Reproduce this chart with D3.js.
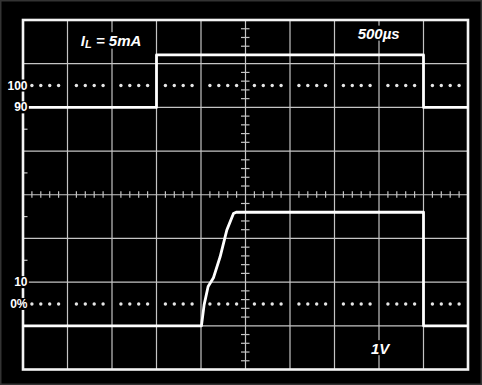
<head>
  <title>Load step response</title>
</head>
<body>
  <script src="https://cdn.jsdelivr.net/npm/d3@7"></script>

  <style>
    body {
      margin: 0;
      background: #000;
    }
    text {
      font-family: "Liberation Sans", Arial, sans-serif;
      font-weight: bold;
      fill: #fff;
    }
    .grid line {
      stroke: #c4c4c4;
      stroke-width: 1.2;
    }
    .trace {
      fill: none;
      stroke: #fff;
      stroke-width: 2.8;
      stroke-linejoin: round;
    }
  </style>

  <script>
    // time in microseconds (500us/div), levels in screen divisions from centre
    const currentTime = [0, 1500, 1500, 4500, 4500, 5000];
    const currentLevel = [2, 2, 3.2, 3.2, 2, 2];

    const voltageTime = [0, 2005, 2035, 2080, 2140, 2215, 2290, 2365, 2395, 4500, 4500, 5000];
    const voltageLevel = [-3, -3, -2.52, -2.1, -1.9, -1.42, -0.81, -0.43, -0.4, -0.4, -3, -3];

    const refLevels = [2.5, 2, -2, -2.5];
    const refLabels = ["100", "90", "10", "0%"];
    const dottedLevels = [2.5, -2.5];

    const W = 482, H = 385;
    var margin = {top: 20, right: 14, bottom: 15.5, left: 23}
      , width = W - margin.left - margin.right
      , height = H - margin.top - margin.bottom;

    const svg = d3.select("body").append("svg")
      .attr("width", W)
      .attr("height", H);

    // outer frame of the photo
    svg.append("rect")
      .attr("x", 0.75).attr("y", 0.75)
      .attr("width", W - 1.5).attr("height", H - 1.5)
      .attr("fill", "#000")
      .attr("stroke", "#333")
      .attr("stroke-width", 1.5);

    const g = svg.append("g")
      .attr("transform", "translate(" + margin.left + "," + margin.top + ")");

    const x = d3.scaleLinear().domain([0, 5000]).range([0, width]);
    const y = d3.scaleLinear().domain([-4, 4]).range([height, 0]);

    // graticule
    const grid = g.append("g").attr("class", "grid");
    grid.selectAll(".v").data(d3.range(500, 5000, 500)).enter().append("line")
      .attr("x1", d => x(d)).attr("x2", d => x(d))
      .attr("y1", 0).attr("y2", height);
    grid.selectAll(".h").data(d3.range(-3, 4)).enter().append("line")
      .attr("x1", 0).attr("x2", width)
      .attr("y1", d => y(d)).attr("y2", d => y(d));

    // minor ticks on centre axes
    const minorX = d3.range(0, 5001, 100).filter(d => d % 500 !== 0);
    const minorY = d3.range(-40, 41, 2).map(d => d / 10).filter(d => Math.abs(d % 1) > 0.01);
    grid.selectAll(".mx").data(minorX).enter().append("line")
      .attr("x1", d => x(d)).attr("x2", d => x(d))
      .attr("y1", y(0) - 3.5).attr("y2", y(0) + 3);
    grid.selectAll(".my").data(minorY).enter().append("line")
      .attr("x1", x(2500) - 4.5).attr("x2", x(2500) + 4)
      .attr("y1", d => y(d)).attr("y2", d => y(d));
    // half-division marks on the left edge
    grid.selectAll(".ml").data([1.5, 0.5, -0.5, -1.5]).enter().append("line")
      .attr("x1", 0).attr("x2", 4.5)
      .attr("y1", d => y(d)).attr("y2", d => y(d));

    // dotted reference rows
    dottedLevels.forEach(lv => {
      const dots = minorX.map(t => ({t: t, lv: lv}));
      g.selectAll(null).data(dots).enter().append("circle")
        .attr("cx", d => x(d.t)).attr("cy", d => y(d.lv))
        .attr("r", 1.7)
        .attr("fill", "#e6e6e6");
    });

    // border
    g.append("rect")
      .attr("width", width).attr("height", height)
      .attr("fill", "none")
      .attr("stroke", "#f4f4f4")
      .attr("stroke-width", 2.6);

    // traces
    const line = d3.line()
      .x(d => x(d[0]))
      .y(d => y(d[1]));

    g.append("path")
      .attr("class", "trace")
      .attr("d", line(d3.zip(currentTime, currentLevel)));
    g.append("path")
      .attr("class", "trace")
      .attr("d", line(d3.zip(voltageTime, voltageLevel)));

    // text with black backing
    function label(px, py, anchor, size, italic, parts) {
      const t = g.append("text")
        .attr("x", px).attr("y", py)
        .attr("text-anchor", anchor)
        .attr("dominant-baseline", "central")
        .style("font-size", size + "px")
        .style("font-style", italic ? "italic" : "normal");
      parts.forEach(p => {
        const s = t.append("tspan").text(p.text);
        if (p.sub) s.attr("dy", 4).style("font-size", (size - 4) + "px");
        if (p.back) s.attr("dy", -4);
      });
      const b = t.node().getBBox();
      g.insert("rect", function () { return t.node(); })
        .attr("x", b.x - 1).attr("y", b.y + 1)
        .attr("width", b.width + 2).attr("height", b.height - 2)
        .attr("fill", "#000");
    }

    refLevels.forEach((lv, i) => {
      label(4.5, y(lv), "end", 12, false, [{text: refLabels[i]}]);
    });

    label(x(650), y(3.55), "start", 15, true,
      [{text: "I"}, {text: "L", sub: true}, {text: " = 5mA", back: true}]);
    label(x(3760), y(3.7), "start", 15, true, [{text: "500µs"}]);
    label(x(3910), y(-3.5), "start", 15, true, [{text: "1V"}]);
  </script>
</body>
